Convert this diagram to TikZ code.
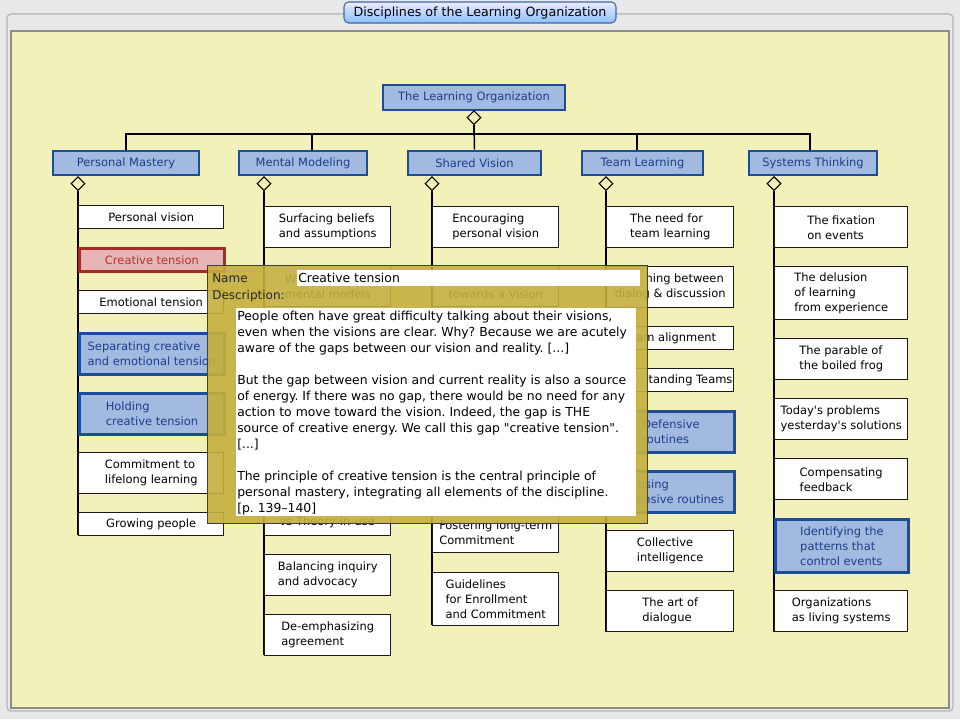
\documentclass[tikz,border=0pt]{standalone}
\usepackage{fontspec}
\setmainfont{DejaVu Sans}[Ligatures=TeXOff]
\usetikzlibrary{shapes.geometric}
\frenchspacing

\definecolor{bggray}{HTML}{E8E8E8}
\definecolor{paper}{HTML}{F2F1B9}
\definecolor{catfill}{HTML}{A2B9E0}
\definecolor{catdraw}{HTML}{1D4C98}
\definecolor{cattext}{HTML}{1D3E8A}
\definecolor{redfill}{HTML}{E7B5B5}
\definecolor{reddraw}{HTML}{A52A2A}
\definecolor{redtext}{HTML}{B23434}
\definecolor{gold}{HTML}{C5AF3D}

\begin{document}
\begin{tikzpicture}[x=0.75pt, y=-0.75pt, font=\fontsize{8.6}{11.25}\selectfont]
\tikzstyle{cat}=[rectangle, draw=catdraw, fill=catfill, text=cattext, line width=2.2pt, minimum height=18pt, inner sep=0pt]
\tikzstyle{joint}=[diamond, draw=black, line width=0.9pt, minimum width=10.5pt, minimum height=10.5pt, inner sep=0pt]
\tikzstyle{leaf}=[rectangle, draw=black!90, fill=white, line width=1.1pt, anchor=north west, align=left, inner sep=0pt]
\tikzstyle{leafb}=[leaf, draw=catdraw, fill=catfill, text=cattext, line width=2.2pt]
\tikzstyle{leafr}=[leaf, draw=reddraw, fill=redfill, text=redtext, line width=2.2pt]
\tikzstyle{colpm}=[minimum width=108.75pt]
\tikzstyle{colmm}=[minimum width=94.5pt]
\tikzstyle{colsv}=[minimum width=94.5pt]
\tikzstyle{coltl}=[minimum width=95.25pt]
\tikzstyle{colst}=[minimum width=99.75pt]
\tikzstyle{oneln}=[minimum height=17.25pt]
\tikzstyle{twoln}=[minimum height=30.75pt]
\tikzstyle{threeln}=[minimum height=39.75pt]
\tikzstyle{drawstyle}=[line width=1.1pt]

\useasboundingbox (0,0) rectangle (960,719);
\fill[bggray] (0,0) rectangle (960,719);
\draw[black!30, line width=0.9pt, rounded corners=3pt] (7,14) rectangle (953,711);
\draw[black!45, fill=paper, line width=0.8pt] (11,31) rectangle (949,708);

% window title
\node[rectangle, rounded corners=3.5pt, draw=catdraw!85, line width=0.8pt, top color=blue!8, bottom color=blue!55!cyan!45, minimum width=204pt, minimum height=15.75pt, inner sep=0pt, font=\fontsize{9.5}{11}\selectfont] (title) at (480,12.5) {Disciplines of the Learning Organization};

% root and disciplines
\node[cat, minimum width=136.5pt, minimum height=18.75pt] (R) at (474,97.5) {The Learning Organization};
\node[joint, anchor=north] (J) at (474,110) {};
\node[cat, minimum width=109.5pt] (C0) at (126,163) {Personal Mastery};
\node[cat, minimum width=96pt] (C1) at (303,163) {Mental Modeling};
\node[cat, minimum width=99.75pt] (C2) at (474.5,163) {Shared Vision};
\node[cat, minimum width=90.75pt] (C3) at (642.5,163) {Team Learning};
\node[cat, minimum width=96pt] (C4) at (813,163) {Systems Thinking};
\draw[drawstyle] (J.south) -- ++(0,9) -| (C0.north);
\draw[drawstyle] (J.south) -- ++(0,9) -| ([xshift=6.75pt]C1.north);
\draw[drawstyle] (J.south) -- (C2.north);
\draw[drawstyle] (J.south) -- ++(0,9) -| ([xshift=-4pt]C3.north);
\draw[drawstyle] (J.south) -- ++(0,9) -| ([xshift=-2.25pt]C4.north);

\node[joint, anchor=north] (J0) at (78,176) {};
\node[joint, anchor=north] (J1) at (264,176) {};
\node[joint, anchor=north] (J2) at (432,176) {};
\node[joint, anchor=north] (J3) at (606,176) {};
\node[joint, anchor=north] (J4) at (774,176) {};

% Personal Mastery
\draw[drawstyle] (J0.south) -- (78,535);
\node[leaf, colpm, oneln] (C0x1) at (78,205) {Personal vision};
\node[leafr, colpm, oneln] (C0x2) at (78,247) {Creative tension};
\node[leaf, colpm, oneln] (C0x3) at (78,290) {Emotional tension};
\node[leafb, colpm, twoln] (C0x4) at (78,332) {Separating creative\\and emotional tension};
\node[leafb, colpm, twoln] (C0x5) at (78,392) {Holding\\creative tension};
\node[leaf, colpm, twoln] (C0x6) at (78,452) {Commitment to\\lifelong learning};
\node[leaf, colpm, oneln] (C0x7) at (78,512) {Growing people};

% Mental Modeling
\draw[drawstyle] (J1.south) -- (264,655);
\node[leaf, colmm, twoln] (C1x1) at (264,206) {Surfacing beliefs\\and assumptions};
\node[leaf, colmm, twoln] (C1x2) at (264,265) {W\phantom{orking with}\\mental models};
\node[leaf, colmm, twoln] (C1x3) at (264,494) {\phantom{Espoused theory}\\vs Theory-in-use};
\node[leaf, colmm, twoln] (C1x4) at (264,554) {Balancing inquiry\\and advocacy};
\node[leaf, colmm, twoln] (C1x5) at (264,614) {De-emphasizing\\agreement};

% Shared Vision
\draw[drawstyle] (J2.south) -- (432,625);
\node[leaf, colsv, twoln] (C2x1) at (432,206) {Encouraging\\personal vision};
\node[leaf, colsv, twoln] (C2x2) at (432,265) {\phantom{Moving}\\towards a Vision};
\node[leaf, colsv, twoln] (C2x3) at (432,511) {Fostering long-term\\Commitment};
\node[leaf, colsv, threeln] (C2x4) at (432,572) {Guidelines\\for Enrollment\\and Commitment};

% Team Learning
\draw[drawstyle] (J3.south) -- (606,632);
\node[leaf, coltl, twoln] (C3x1) at (606,206) {The need for\\team learning};
\node[leaf, coltl, twoln] (C3x2) at (606,266) {\phantom{Switc}hing between\\dialog \& discussion};
\node[leaf, coltl, oneln] (C3x3) at (606,326) {\phantom{Te}am alignment};
\node[leaf, coltl, oneln] (C3x4) at (606,368) {\phantom{Unders}tanding Teams};
\node[leafb, coltl, twoln] (C3x5) at (606,410) {Defensive\\routines};
\node[leafb, coltl, twoln] (C3x6) at (606,470) {\phantom{Def}using\\\phantom{def}ensive routines};
\node[leaf, coltl, twoln] (C3x7) at (606,530) {Collective\\intelligence};
\node[leaf, coltl, twoln] (C3x8) at (606,590) {The art of\\dialogue};

% Systems Thinking
\draw[drawstyle] (J4.south) -- (774,632);
\node[leaf, colst, twoln] (C4x1) at (774,206) {The fixation\\on events};
\node[leaf, colst, threeln] (C4x2) at (774,266) {The delusion\\of learning\\from experience};
\node[leaf, colst, twoln] (C4x3) at (774,338) {The parable of\\the boiled frog};
\node[leaf, colst, twoln] (C4x4) at (774,398) {Today's problems\\yesterday's solutions};
\node[leaf, colst, twoln] (C4x5) at (774,458) {Compensating\\feedback};
\node[leafb, colst, threeln] (C4x6) at (774,518) {Identifying the\\patterns that\\control events};
\node[leaf, colst, twoln] (C4x7) at (774,590) {Organizations\\as living systems};

% tooltip
\node[rectangle, draw=black!75, line width=0.75pt, fill=gold, fill opacity=0.9, anchor=north west, minimum width=330pt, minimum height=193.5pt, inner sep=0pt] (tip) at (207,265) {};
\node[anchor=west, inner sep=0pt, text=black!85, font=\fontsize{9}{12}\selectfont] (tipname) at (212,278) {Name};
\node[rectangle, fill=white, anchor=north west, minimum width=257.25pt, minimum height=12pt, inner sep=0pt] (tipfield) at (297,270) {};
\node[anchor=west, inner sep=0pt, font=\fontsize{9.3}{12}\selectfont] (tipval) at (298,278) {Creative tension};
\node[anchor=west, inner sep=0pt, text=black!85, font=\fontsize{9}{12}\selectfont] (tipdesc) at (212,296) {Description:};
\node[rectangle, fill=white, anchor=north west, minimum width=300pt, minimum height=156pt, inner sep=0pt] (tipbox) at (236,308) {};
\node[anchor=north west, inner sep=0pt, align=left, font=\fontsize{9.3}{12}\selectfont] (tiptext) at (237,311) {People often have great difficulty talking about their visions,\\
even when the visions are clear. Why? Because we are acutely\\
aware of the gaps between our vision and reality. {[}...{]}\\[12pt]
But the gap between vision and current reality is also a source\\
of energy. If there was no gap, there would be no need for any\\
action to move toward the vision. Indeed, the gap is THE\\
source of creative energy. We call this gap "creative tension".\\
{[}...{]}\\[12pt]
The principle of creative tension is the central principle of\\
personal mastery, integrating all elements of the discipline.\\
{[}p. 139–140{]}};
\end{tikzpicture}
\end{document}
